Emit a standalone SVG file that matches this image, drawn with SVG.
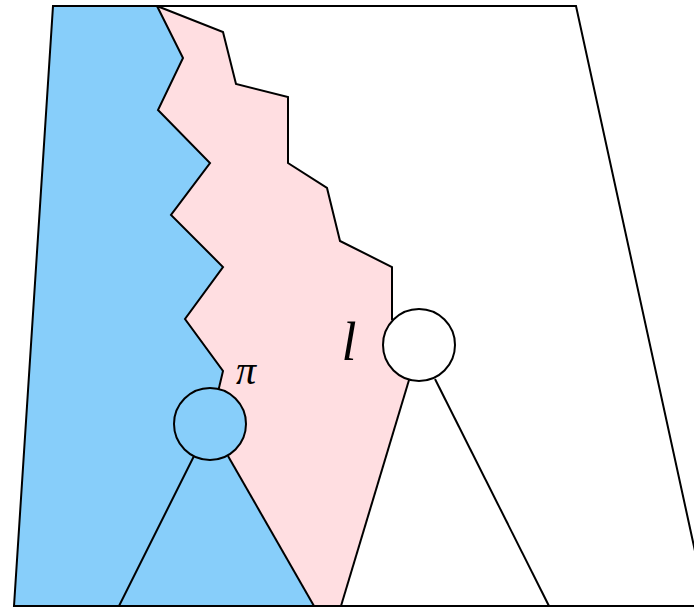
<svg xmlns="http://www.w3.org/2000/svg" width="694" height="608" viewBox="0 0 694 608">
<style>
.ln{fill:none;stroke:#000;stroke-width:2;stroke-linejoin:miter}
.blue{fill:#87CEFA}
.pink{fill:#FFDEE1}
.node{stroke:#000;stroke-width:2}
.lbl{font-family:"Liberation Serif","DejaVu Serif",serif;font-style:italic;fill:#000}
</style>
<rect width="694" height="608" fill="#fff"/>
<g id="regions">
<polygon class="blue" points="53,6 157,6 183,58 158,110 210,163 171,215 223,267 185,319 223,371 218,388 210,424 229,458 314,606 14,606"/>
<polygon class="pink" points="157,6 223,32 236,84 288,97 288,163 327,188 340,241 392,267 392,345 408,381 341,606 314,606 229,458 210,424 218,388 223,371 185,319 223,267 171,215 210,163 158,110 183,58"/>
<path class="ln" d="M53,6 L576,6 L707,606 L14,606 Z"/>
<polyline class="ln" points="157,6 183,58 158,110 210,163 171,215 223,267 185,319 223,371 218,392"/>
<polyline class="ln" points="157,6 223,32 236,84 288,97 288,163 327,188 340,241 392,267 392,320"/>
</g>
<g id="connectors">
<line class="ln" x1="194" y1="456" x2="119" y2="606"/>
<line class="ln" x1="228" y1="456" x2="314" y2="606"/>
<line class="ln" x1="409" y1="380" x2="341" y2="606"/>
<line class="ln" x1="435" y1="379" x2="549" y2="606"/>
</g>
<g id="node-pi">
<circle class="node blue" cx="210" cy="424" r="36"/>
<text class="lbl" x="246" y="384" font-size="40" text-anchor="middle">π</text>
</g>
<g id="node-l">
<circle class="node" cx="419" cy="345" r="36" fill="#fff"/>
<text class="lbl" x="349" y="360" font-size="54" text-anchor="middle">l</text>
</g>
</svg>
